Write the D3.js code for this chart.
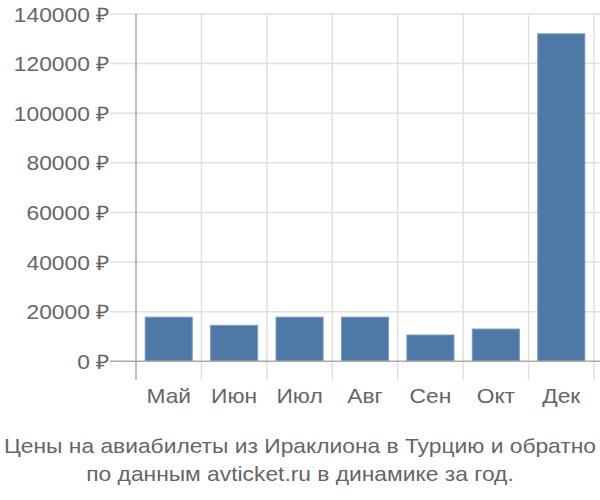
<!DOCTYPE html>
<html><head><meta charset="utf-8">
<script src="https://cdn.jsdelivr.net/npm/d3@7"></script>
<style>body{margin:0;background:#fff}svg{display:block}text{font-family:"Liberation Sans",Arial,sans-serif}</style>
</head><body><svg id="c" width="600" height="500"></svg>
<script>
const months = ["Май","Июн","Июл","Авг","Сен","Окт","Дек"];
const prices = [17800, 14500, 17800, 17800, 10600, 13000, 132000];
const yTicks = [0, 20000, 40000, 60000, 80000, 100000, 120000, 140000];
const titleLines = ["Цены на авиабилеты из Ираклиона в Турцию и обратно","по данным avticket.ru в динамике за год."];

(function(){
const svg = d3.select("#c");
const SX = 1.14;
const pl = 136, pr = 594, pt = 14, pb = 361.3;
const x = d3.scaleBand().domain(months).range([pl, pr]).paddingInner(0.28).paddingOuter(0.14);
const xg = d3.scaleBand().domain(months).range([pl, pr]);
const y = d3.scaleLinear().domain([0, 140000]).range([pb, pt]);
const tr = (tx, ty) => `translate(${tx},${ty}) scale(${SX},1)`;

svg.append("g").selectAll("line").data(yTicks.slice(1)).join("line")
  .attr("x1", 110).attr("x2", 600).attr("y1", d => y(d)).attr("y2", d => y(d))
  .attr("stroke", "#e0e0e0").attr("stroke-width", 1.5);
svg.append("g").selectAll("line").data(months.slice(1).concat(["end"])).join("line")
  .attr("x1", (d,i) => i < 6 ? xg(d) : pr).attr("x2", (d,i) => i < 6 ? xg(d) : pr)
  .attr("y1", pt).attr("y2", 380)
  .attr("stroke", "#e0e0e0").attr("stroke-width", 1.5);
svg.append("g").selectAll("rect").data(prices).join("rect")
  .attr("x", (d,i) => x(months[i])).attr("width", x.bandwidth())
  .attr("y", d => y(d)).attr("height", d => y(0) - y(d))
  .attr("fill", "#4e79a7").attr("stroke", "#7a9cc4").attr("stroke-width", 1);
svg.append("line").attr("x1", pl).attr("x2", pl).attr("y1", pt).attr("y2", 380)
  .attr("stroke", "#aaaaaa").attr("stroke-width", 1.5);
svg.append("line").attr("x1", 110).attr("x2", 600).attr("y1", y(0)).attr("y2", y(0))
  .attr("stroke", "#aaaaaa").attr("stroke-width", 1.5);
svg.append("g").selectAll("text").data(yTicks).join("text")
  .attr("transform", d => tr(109, y(d) + 7.5)).attr("text-anchor", "end")
  .attr("font-size", 20).attr("fill", "#666").text(d => d + " ₽");
svg.append("g").selectAll("text").data(months).join("text")
  .attr("transform", d => tr(xg(d) + xg.bandwidth()/2, 403)).attr("text-anchor", "middle")
  .attr("font-size", 20).attr("fill", "#666").text(d => d);
svg.append("g").selectAll("text").data(titleLines).join("text")
  .attr("transform", (d,i) => tr(300, 453 + i*28)).attr("text-anchor", "middle")
  .attr("font-size", 20).attr("fill", "#666").text(d => d);
})();
</script></body></html>
